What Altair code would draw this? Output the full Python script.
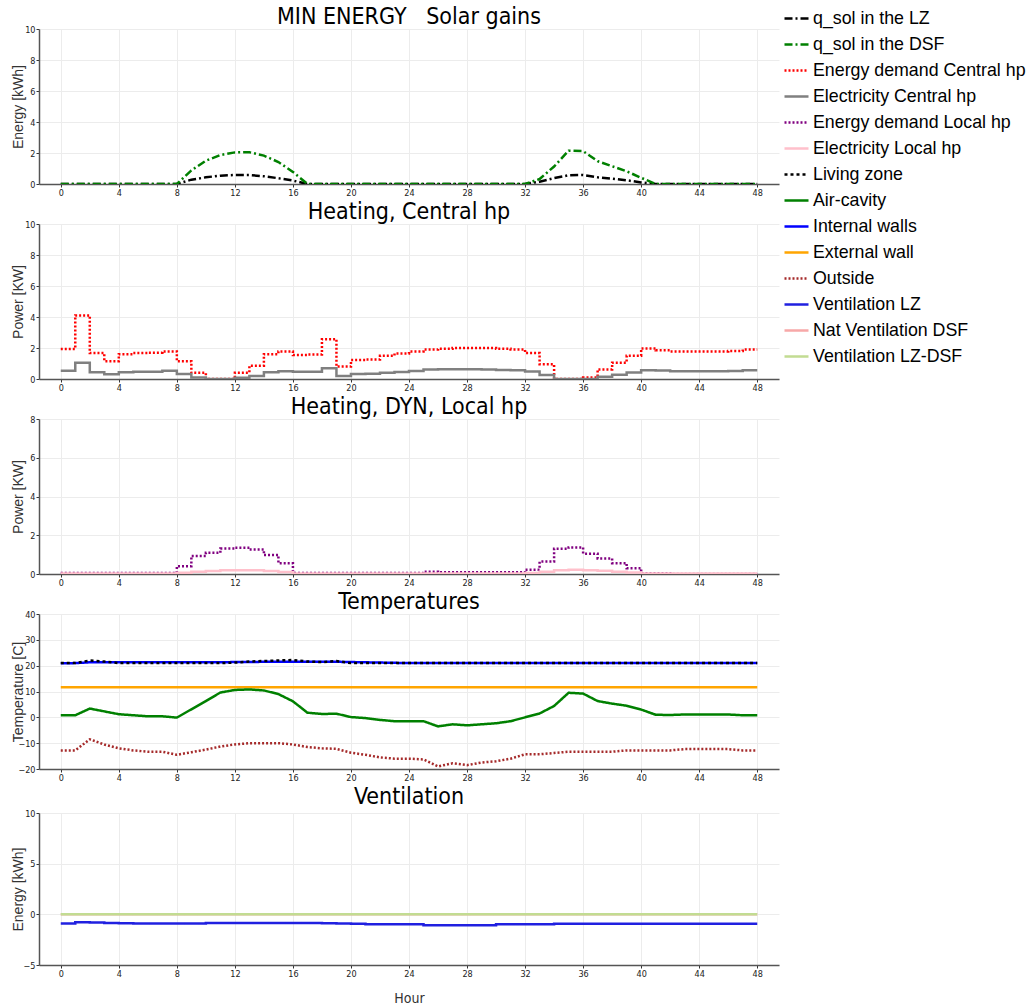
import altair as alt
import pandas as pd

hours = list(range(49))

series_names = [
    "q_sol in the LZ", "q_sol in the DSF", "Energy demand Central hp", "Electricity Central hp",
    "Energy demand Local hp", "Electricity Local hp", "Living zone", "Air-cavity",
    "Internal walls", "External wall", "Outside", "Ventilation LZ",
    "Nat Ventilation DSF", "Ventilation LZ-DSF",
]
series_colors = ["#000000", "#008000", "#ff0000", "#808080", "#800080", "#ffc0cb", "#000000",
                 "#008000", "#0000ff", "#ffa500", "#a52a2a", "#2020e0", "#f7a8a8", "#c2dc92"]
series_dashes = [[8, 3, 2, 3], [8, 3, 2, 3], [2, 2], [1, 0], [2, 2], [1, 0], [3, 3],
                 [1, 0], [1, 0], [1, 0], [2, 2], [1, 0], [1, 0], [1, 0]]
series_widths = [2.5, 2.5, 2.5, 3, 2.5, 3, 4, 3, 3, 3, 2.5, 1, 1, 2.2]

# Panel 1: solar gains [kWh]
qsol_lz = [0, 0, 0, 0, 0, 0, 0, 0, 0, 0.28, 0.43, 0.54, 0.58, 0.58, 0.5, 0.37, 0.22, 0,
           0, 0, 0, 0, 0, 0, 0, 0, 0, 0, 0, 0, 0, 0, 0,
           0.15, 0.38, 0.56, 0.58, 0.43, 0.35, 0.24, 0.1, 0, 0, 0, 0, 0, 0, 0, 0]
qsol_dsf = [0, 0, 0, 0, 0, 0, 0, 0, 0, 0.88, 1.5, 1.87, 2.04, 2.05, 1.83, 1.42, 0.78, 0,
            0, 0, 0, 0, 0, 0, 0, 0, 0, 0, 0, 0, 0, 0, 0,
            0.32, 1.13, 2.15, 2.12, 1.47, 1.15, 0.82, 0.4, 0, 0, 0, 0, 0, 0, 0, 0]

# Panel 2: central heat pump [kW]
demand_central = [1.93, 4.1, 1.67, 1.15, 1.6, 1.67, 1.7, 1.78, 1.15, 0.4, 0, 0, 0.4, 0.85,
                  1.6, 1.78, 1.55, 1.58, 2.57, 0.8, 1.22, 1.26, 1.5, 1.65, 1.78, 1.9, 1.95,
                  2.0, 2.0, 2.0, 1.95, 1.9, 1.68, 0.95, 0, 0, 0.1, 0.62, 1.05, 1.5, 1.97,
                  1.85, 1.78, 1.78, 1.78, 1.78, 1.8, 1.9, 1.9]
elec_central = [0.53, 1.05, 0.43, 0.3, 0.43, 0.47, 0.47, 0.53, 0.32, 0.1, 0, 0, 0.08, 0.2,
                0.43, 0.5, 0.47, 0.47, 0.7, 0.2, 0.32, 0.34, 0.4, 0.45, 0.52, 0.62, 0.63,
                0.63, 0.63, 0.62, 0.58, 0.56, 0.48, 0.26, 0, 0, 0, 0.15, 0.27, 0.42, 0.57,
                0.55, 0.5, 0.5, 0.5, 0.5, 0.52, 0.56, 0.56]

# Panel 3: local heat pump [kW]
demand_local = [0.05, 0.05, 0.05, 0.05, 0.05, 0.05, 0.05, 0.05, 0.4, 0.93, 1.1, 1.31, 1.36,
                1.27, 0.98, 0.55, 0.05, 0.05, 0.05, 0.05, 0.05, 0.05, 0.05, 0.05, 0.05, 0.12,
                0.09, 0.09, 0.09, 0.09, 0.09, 0.09, 0.22, 0.64, 1.3, 1.37, 1.05, 0.8, 0.56,
                0.3, 0.04, 0.04, 0, 0, 0, 0, 0, 0, 0]
elec_local = [0.02, 0.02, 0.02, 0.02, 0.02, 0.02, 0.02, 0.02, 0.07, 0.12, 0.15, 0.19, 0.2,
              0.19, 0.15, 0.1, 0.02, 0.02, 0.02, 0.02, 0.02, 0.02, 0.02, 0.02, 0.02, 0.02,
              0.02, 0.02, 0.02, 0.02, 0.02, 0.02, 0.05, 0.12, 0.2, 0.22, 0.2, 0.17, 0.12,
              0.08, 0.02, 0.02, 0.02, 0.02, 0.02, 0.02, 0.02, 0.02, 0.02]

# Panel 4: temperatures [C]
t_living = [21.0, 21.0, 22.0, 21.6, 21.0, 21.0, 21.0, 21.0, 21.0, 21.0, 21.0, 21.0, 21.2,
            21.6, 21.8, 22.0, 22.2, 21.6, 21.4, 21.8, 21.0, 21.0, 21.0, 21.0, 21.0, 21.0,
            21.0, 21.0, 21.0, 21.0, 21.0, 21.0, 21.0, 21.0, 21.0, 21.0, 21.0, 21.0, 21.0,
            21.0, 21.0, 21.0, 21.0, 21.0, 21.0, 21.0, 21.0, 21.0, 21.0]
t_cavity = [0.8, 0.8, 3.4, 2.3, 1.2, 0.8, 0.4, 0.4, -0.1, 3.1, 6.3, 9.6, 10.6, 10.8, 10.4,
            9.0, 6.2, 1.8, 1.3, 1.4, 0.1, -0.3, -1.0, -1.5, -1.5, -1.5, -3.5, -2.7, -3.1,
            -2.7, -2.3, -1.5, 0.0, 1.5, 4.4, 9.5, 9.2, 6.3, 5.3, 4.5, 3.0, 1.0, 0.9, 1.1,
            1.1, 1.1, 1.1, 0.8, 0.8]
t_internal = [20.9, 21.0, 21.3, 21.3, 21.3, 21.3, 21.3, 21.3, 21.3, 21.3, 21.3, 21.3, 21.4,
              21.4, 21.5, 21.5, 21.5, 21.5, 21.5, 21.5, 21.4, 21.3, 21.2, 21.1, 21.0, 21.0,
              21.0, 21.0, 21.0, 21.0, 21.0, 21.0, 21.0, 21.0, 21.0, 21.0, 21.0, 21.0, 21.0,
              21.0, 21.0, 21.0, 21.0, 21.0, 21.0, 21.0, 21.0, 21.0, 21.0]
t_external = [11.6, 11.6, 11.6, 11.6, 11.6, 11.6, 11.6, 11.6, 11.6, 11.6, 11.6, 11.6, 11.6,
              11.6, 11.6, 11.6, 11.6, 11.6, 11.6, 11.6, 11.6, 11.6, 11.6, 11.6, 11.6, 11.6,
              11.6, 11.6, 11.6, 11.6, 11.6, 11.6, 11.6, 11.6, 11.6, 11.6, 11.6, 11.6, 11.6,
              11.6, 11.6, 11.6, 11.6, 11.6, 11.6, 11.6, 11.6, 11.6, 11.6]
t_outside = [-12.8, -12.8, -8.5, -10.5, -12.0, -12.8, -13.3, -13.3, -14.5, -13.5, -12.5,
             -11.3, -10.5, -10.0, -10.0, -10.0, -10.5, -11.5, -12.0, -12.2, -13.7, -14.5,
             -15.5, -16.0, -16.0, -16.3, -19.0, -17.8, -18.5, -17.5, -17.0, -16.0, -14.3,
             -14.3, -13.8, -13.3, -13.3, -13.3, -13.3, -12.8, -12.8, -12.8, -12.8, -12.3,
             -12.3, -12.3, -12.3, -12.8, -12.8]

# Panel 5: ventilation [kWh]
vent_lz = [-0.9, -0.78, -0.8, -0.85, -0.87, -0.9, -0.9, -0.9, -0.9, -0.9, -0.85, -0.85,
           -0.85, -0.85, -0.85, -0.85, -0.85, -0.85, -0.87, -0.9, -0.92, -0.97, -0.97,
           -0.97, -0.97, -1.07, -1.07, -1.07, -1.07, -1.07, -0.97, -0.97, -0.97, -0.97,
           -0.92, -0.92, -0.92, -0.92, -0.92, -0.92, -0.92, -0.92, -0.92, -0.92, -0.92,
           -0.92, -0.92, -0.92, -0.92]
nat_vent_dsf = [0, 0, 0, 0, 0, 0, 0, 0, 0, 0, 0, 0, 0, 0, 0, 0, 0, 0, 0, 0, 0, 0, 0, 0, 0,
                0, 0, 0, 0, 0, 0, 0, 0, 0, 0, 0, 0, 0, 0, 0, 0, 0, 0, 0, 0, 0, 0, 0, 0]
vent_lz_dsf = [0, 0, 0, 0, 0, 0, 0, 0, 0, 0, 0, 0, 0, 0, 0, 0, 0, 0, 0, 0, 0, 0, 0, 0, 0,
               0, 0, 0, 0, 0, 0, 0, 0, 0, 0, 0, 0, 0, 0, 0, 0, 0, 0, 0, 0, 0, 0, 0, 0]

x_ticks = [0, 4, 8, 12, 16, 20, 24, 28, 32, 36, 40, 44, 48]

NARROW = "DejaVu Sans Condensed, Liberation Sans, sans-serif"


def long_df(pairs):
    rows = []
    for name, vals in pairs:
        for h, v in zip(hours, vals):
            rows.append({"hour": h, "value": v, "series": name})
    return pd.DataFrame(rows)


legend_def = alt.Legend(title=None, orient="none", legendX=744, legendY=-24)


def panel(pairs, title, ytitle, ydomain, yticks, interp, height, xtitle=None, title_offset=-4):
    df = long_df(pairs)
    return alt.Chart(df).mark_line(interpolate=interp, clip=True).encode(
        x=alt.X("hour:Q",
                scale=alt.Scale(domain=[-1.5, 49.5], nice=False, zero=False),
                axis=alt.Axis(values=x_ticks, title=xtitle, titlePadding=13,
                              titleFont=NARROW, titleFontSize=14, titleColor="#333333")),
        y=alt.Y("value:Q",
                scale=alt.Scale(domain=ydomain, nice=False, zero=False),
                axis=alt.Axis(values=yticks, title=ytitle, titleX=-14, titleY=height / 2,
                              titleAlign="center", titleAngle=270, titleBaseline="bottom")),
        color=alt.Color("series:N", scale=alt.Scale(domain=series_names, range=series_colors),
                        legend=legend_def),
        strokeDash=alt.StrokeDash("series:N", scale=alt.Scale(domain=series_names, range=series_dashes),
                                  legend=legend_def),
        strokeWidth=alt.StrokeWidth("series:N", scale=alt.Scale(domain=series_names, range=series_widths),
                                    legend=legend_def),
    ).properties(width=740, height=height,
                 title=alt.TitleParams(title, offset=title_offset))


p1 = panel([("q_sol in the LZ", qsol_lz), ("q_sol in the DSF", qsol_dsf)],
           "MIN ENERGY\u00a0\u00a0\u00a0Solar gains", "Energy [kWh]", [0, 10], [0, 2, 4, 6, 8, 10],
           "linear", 155)
p2 = panel([("Energy demand Central hp", demand_central), ("Electricity Central hp", elec_central)],
           "Heating, Central hp", "Power [KW]", [0, 10], [0, 2, 4, 6, 8, 10], "step-after", 155)
p3 = panel([("Energy demand Local hp", demand_local), ("Electricity Local hp", elec_local)],
           "Heating, DYN, Local hp", "Power [KW]", [0, 8], [0, 2, 4, 6, 8], "step-after", 155)
p4 = panel([("External wall", t_external), ("Air-cavity", t_cavity), ("Outside", t_outside),
            ("Internal walls", t_internal), ("Living zone", t_living)],
           "Temperatures", "Temperature [C]", [-20, 40], [-20, -10, 0, 10, 20, 30, 40], "linear", 155)
p5 = panel([("Ventilation LZ", vent_lz), ("Nat Ventilation DSF", nat_vent_dsf),
            ("Ventilation LZ-DSF", vent_lz_dsf)],
           "Ventilation", "Energy [kWh]", [-5, 10], [-5, 0, 5, 10], "step-after", 152, xtitle="Hour",
           title_offset=0)

chart = alt.vconcat(p1, p2, p3, p4, p5, spacing=4).resolve_scale(
    color="shared", strokeDash="shared", strokeWidth="shared"
).properties(
    padding={"left": 10, "top": 5, "right": 0, "bottom": 0}, background="white"
).configure_view(stroke=None).configure_axis(
    labelFont=NARROW, labelFontSize=9, labelColor="#222222",
    domainColor="#555555", domainWidth=1.5, tickColor="#333333", tickSize=3, labelPadding=1,
    gridColor="#ececec", gridWidth=1,
    titleFont="Liberation Sans", titleFontWeight="normal", titleFontSize=14, titleColor="#333333",
).configure_title(
    font=NARROW, fontSize=23, fontWeight="normal", color="#000000",
    anchor="middle",
).configure_legend(
    labelFont="Liberation Sans", labelFontSize=17.8, labelColor="#000000",
    symbolType="stroke", symbolSize=576, labelOffset=3, rowPadding=3.0, padding=0,
    labelLimit=400,
)

chart.save("out.html", embed_options={"renderer": "svg", "actions": False})
